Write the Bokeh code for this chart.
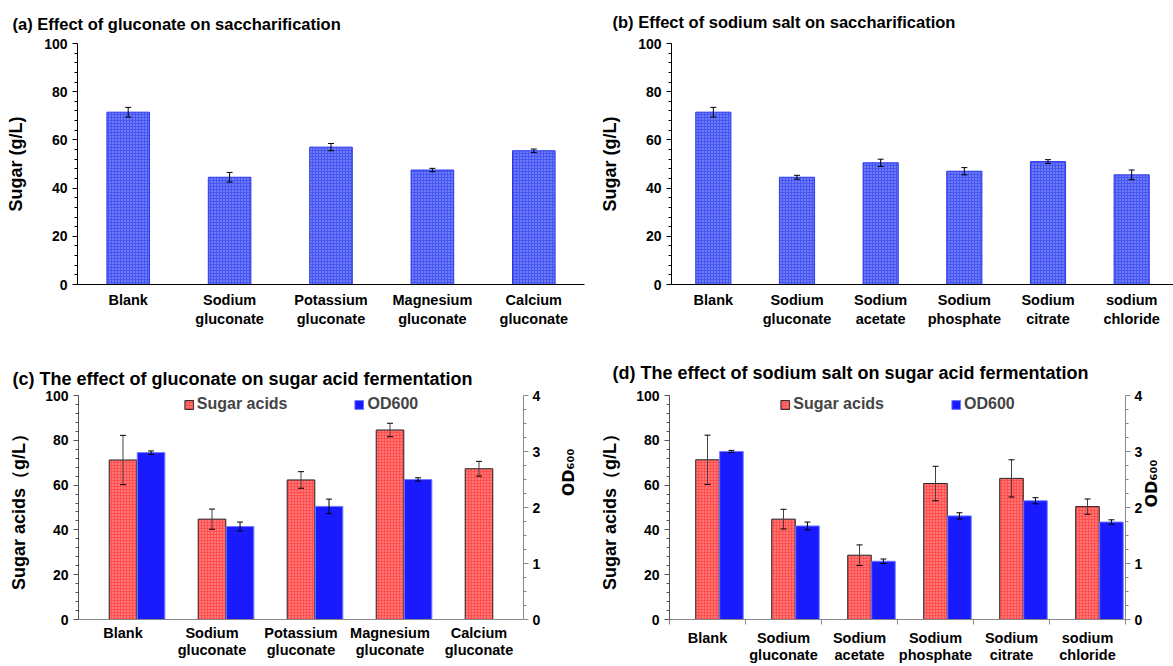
import math

from bokeh.embed import file_html
from bokeh.layouts import column, row
from bokeh.models import (ColumnDataSource, FixedTicker, Legend, LegendItem,
                          LinearAxis, Range1d, SingleIntervalTicker, TeeHead, Whisker)
from bokeh.plotting import figure
from bokeh.resources import INLINE
from bokeh.transform import dodge

FONT = "Liberation Sans"
nan = float("nan")
NBSP = "\u00a0"

# ---- data -------------------------------------------------------------
gluconate_cats = ["Blank", "Sodium\ngluconate", "Potassium\ngluconate",
                  "Magnesium\ngluconate", "Calcium\ngluconate"]
sodium_cats = ["Blank", "Sodium\ngluconate", "Sodium\nacetate",
               "Sodium\nphosphate", "Sodium\ncitrate", "sodium\nchloride"]

# (a) saccharification with gluconate salts, sugar g/L
sugar_a = [71.5, 44.5, 57.0, 47.5, 55.5]
sugar_a_err = [2.0, 2.0, 1.5, 0.7, 0.7]

# (b) saccharification with sodium salts, sugar g/L
sugar_b = [71.5, 44.5, 50.5, 47.0, 51.0, 45.5]
sugar_b_err = [2.0, 0.8, 1.5, 1.5, 0.8, 2.0]

# (c) fermentation with gluconate salts
acids_c = [71.2, 44.8, 62.3, 84.6, 67.3]
acids_c_err = [11.0, 4.5, 3.7, 3.0, 3.3]
od_c = [2.98, 1.66, 2.02, 2.50, nan]
od_c_err = [0.03, 0.08, 0.13, 0.03, nan]

# (d) fermentation with sodium salts
acids_d = [71.3, 44.8, 28.7, 60.7, 63.0, 50.4]
acids_d_err = [11.0, 4.4, 4.6, 7.7, 8.3, 3.4]
od_d = [3.00, 1.67, 1.04, 1.85, 2.12, 1.74]
od_d_err = [0.02, 0.07, 0.04, 0.056, 0.055, 0.04]

# ---- styles -----------------------------------------------------------
PATTERN_BLUE = dict(fill_color="#4656f3", line_color="#2a38ee", line_width=1,
                    hatch_pattern="dot", hatch_color="white", hatch_alpha=0.55,
                    hatch_scale=3, hatch_weight=1)
PATTERN_RED = dict(fill_color="#ff4f4f", line_color="#222222", line_width=1,
                   hatch_pattern="dot", hatch_color="white", hatch_alpha=0.55,
                   hatch_scale=3, hatch_weight=1)
SOLID_BLUE = dict(fill_color="#1a1aff", line_color="#6f7bff", line_width=1)


def style_tick_labels(ax, size="14px"):
    ax.major_label_text_font = FONT
    ax.major_label_text_font_style = "bold"
    ax.major_label_text_font_size = size
    ax.major_label_text_color = "black"


def make_fig(cats, width, height, left, right, top, bottom, title, title_size,
             title_offset, title_standoff, axis_color, left_color, sep_ticks,
             ylabel_standoff, xlabel_standoff, xlabel_line_height):
    n = len(cats)
    p = figure(width=width, height=height, x_range=Range1d(-0.5, n - 0.5),
               y_range=Range1d(0, 100), output_backend="svg", toolbar_location=None,
               min_border_left=left, min_border_right=right, min_border_top=top,
               min_border_bottom=bottom, title=title)
    p.outline_line_color = None
    p.xgrid.visible = False
    p.ygrid.visible = False

    p.title.text_font = FONT
    p.title.text_font_size = title_size
    p.title.text_font_style = "bold"
    p.title.text_color = "black"
    p.title.align = "left"
    p.title.vertical_align = "top"
    p.title.offset = title_offset
    p.title.standoff = title_standoff

    xa = p.xaxis[0]
    xa.ticker = FixedTicker(ticks=list(range(n)),
                            minor_ticks=[k - 0.5 for k in range(n + 1)])
    xa.major_label_overrides = {i: c for i, c in enumerate(cats)}
    xa.major_tick_in = 0
    xa.major_tick_out = 0
    xa.minor_tick_in = 0
    xa.minor_tick_out = 5 if sep_ticks else 0
    xa.minor_tick_line_color = axis_color
    xa.axis_line_color = axis_color
    style_tick_labels(xa, "14.5px")
    xa.major_label_text_line_height = xlabel_line_height
    xa.major_label_standoff = xlabel_standoff

    ya = p.yaxis[0]
    ya.ticker = SingleIntervalTicker(interval=20, num_minor_ticks=5)
    ya.axis_line_color = left_color
    ya.major_tick_line_color = left_color
    ya.minor_tick_line_color = left_color
    ya.major_tick_in = 0
    ya.major_tick_out = 5
    ya.minor_tick_in = 0
    ya.minor_tick_out = 3
    style_tick_labels(ya)
    ya.major_label_standoff = 5
    ya.axis_label_text_font = FONT
    ya.axis_label_text_font_style = "bold"
    ya.axis_label_text_font_size = "18px"
    ya.axis_label_text_color = "black"
    ya.axis_label_standoff = ylabel_standoff
    return p


def add_whisker(p, src, base, y_range_name="default", color="black"):
    w = Whisker(base=base, upper="upper", lower="lower", source=src,
                line_color=color, line_width=1, level="overlay",
                upper_head=TeeHead(size=6, line_color="black", line_width=1),
                lower_head=TeeHead(size=6, line_color="black", line_width=1),
                y_range_name=y_range_name)
    p.add_layout(w)


def single_panel(cats, vals, errs, **kw):
    p = make_fig(cats, xlabel_standoff=7, xlabel_line_height=1.2, **kw)
    p.yaxis[0].axis_label = "Sugar (g/L)"
    src = ColumnDataSource(dict(
        x=list(range(len(cats))), top=vals,
        upper=[v + e for v, e in zip(vals, errs)],
        lower=[v - e for v, e in zip(vals, errs)]))
    p.vbar(x="x", top="top", width=0.42, source=src, **PATTERN_BLUE)
    add_whisker(p, src, "x")
    return p


def dual_panel(cats, acids, acid_err, od, od_err, od_pad, od_standoff, **kw):
    p = make_fig(cats, xlabel_standoff=5, xlabel_line_height=1.12, **kw)
    p.yaxis[0].axis_label = "Sugar acids（g/L）"
    p.extra_y_ranges = {"od": Range1d(0, 4)}
    ra = LinearAxis(y_range_name="od",
                    ticker=SingleIntervalTicker(interval=1, num_minor_ticks=4))
    ra.axis_line_color = "#888888"
    ra.major_tick_line_color = "#888888"
    ra.minor_tick_line_color = "#888888"
    ra.major_tick_in = 0
    ra.major_tick_out = 5
    ra.minor_tick_in = 0
    ra.minor_tick_out = 3
    style_tick_labels(ra)
    ra.major_label_standoff = 4
    # leading no-break spaces lift the label a little above the axis centre
    ra.axis_label = NBSP * od_pad + "OD₆₀₀"
    ra.axis_label_text_font = "DejaVu Sans"
    ra.axis_label_text_font_style = "bold"
    ra.axis_label_text_font_size = "16px"
    ra.axis_label_text_color = "black"
    ra.axis_label_standoff = od_standoff
    try:
        ra.axis_label_orientation = math.pi / 2   # read from bottom to top
    except AttributeError:
        pass
    p.add_layout(ra, "right")

    n = len(cats)
    src_a = ColumnDataSource(dict(
        x=list(range(n)), top=acids,
        upper=[v + e for v, e in zip(acids, acid_err)],
        lower=[v - e for v, e in zip(acids, acid_err)]))
    src_o = ColumnDataSource(dict(
        x=list(range(n)), top=od,
        upper=[v + e for v, e in zip(od, od_err)],
        lower=[v - e for v, e in zip(od, od_err)]))
    r_a = p.vbar(x="x", top="top", width=0.31, source=src_a, **PATTERN_RED)
    r_o = p.vbar(x=dodge("x", 0.315), top="top", width=0.31, source=src_o,
                 y_range_name="od", **SOLID_BLUE)
    add_whisker(p, src_a, "x", color="#444444")
    add_whisker(p, src_o, dodge("x", 0.315), y_range_name="od")

    legend = Legend(items=[LegendItem(label="Sugar acids", renderers=[r_a]),
                           LegendItem(label="OD600", renderers=[r_o])],
                    orientation="horizontal", location="top_center",
                    background_fill_alpha=0, border_line_color=None,
                    padding=0, margin=0, spacing=66, label_standoff=3,
                    glyph_width=11, glyph_height=11,
                    label_text_font=FONT, label_text_font_style="bold",
                    label_text_font_size="16px", label_height=14)
    p.add_layout(legend)
    return p


pa = single_panel(gluconate_cats, sugar_a, sugar_a_err,
                  width=590, height=345, left=77, right=6, top=43, bottom=61,
                  title="(a) Effect of gluconate on saccharification",
                  title_size="16.5px", title_offset=-65, title_standoff=17,
                  axis_color="black", left_color="black", sep_ticks=False,
                  ylabel_standoff=15)
pb = single_panel(sodium_cats, sugar_b, sugar_b_err,
                  width=583, height=345, left=81, right=0, top=43, bottom=61,
                  title="(b) Effect of sodium salt on saccharification",
                  title_size="16.5px", title_offset=-59, title_standoff=21,
                  axis_color="black", left_color="black", sep_ticks=False,
                  ylabel_standoff=15)
pc = dual_panel(gluconate_cats, acids_c, acids_c_err, od_c, od_c_err,
                od_pad=2, od_standoff=25,
                width=590, height=321, left=78, right=65, top=50, bottom=39,
                title="(c) The effect of gluconate on sugar acid fermentation",
                title_size="18px", title_offset=-66, title_standoff=9,
                axis_color="#888888", left_color="#555555", sep_ticks=False,
                ylabel_standoff=13)
pd = dual_panel(sodium_cats, acids_d, acids_d_err, od_d, od_d_err,
                od_pad=0, od_standoff=6,
                width=583, height=321, left=79, right=37, top=50, bottom=38,
                title="(d) The effect of sodium salt on sugar acid fermentation",
                title_size="18px", title_offset=-57, title_standoff=21,
                axis_color="#888888", left_color="#555555", sep_ticks=True,
                ylabel_standoff=13)

layout = column(row(pa, pb), row(pc, pd))
open("out.html", "w").write(file_html(layout, INLINE))
